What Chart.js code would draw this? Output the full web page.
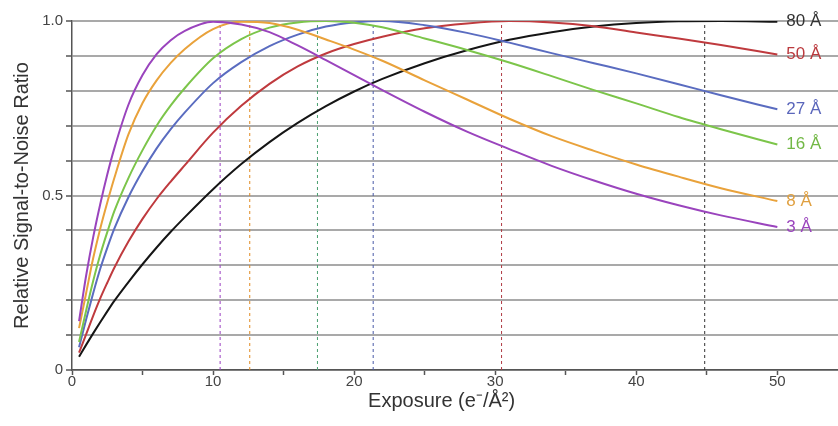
<!DOCTYPE html>
<html>
<head>
<meta charset="utf-8">
<script src="https://cdn.jsdelivr.net/npm/chart.js@4"></script>
<style>
  body { margin: 0; background: #fff; }
  #wrap { width: 838px; height: 426px; position: relative; }
</style>
</head>
<body>
<div id="wrap"><canvas id="myChart"></canvas></div>
<script>
// exposure (e-/A^2) sample points shared by every curve
const exposure = [0.5, 1, 1.5, 2, 2.5, 3, 4, 5, 6, 7, 8, 10, 12, 14, 16, 18, 20, 22, 25, 28, 31, 34, 37, 40, 43, 46, 50];

// relative SNR, one array per resolution
const snr3  = [0.14, 0.27, 0.38, 0.475, 0.56, 0.635, 0.76, 0.845, 0.905, 0.945, 0.972, 0.998, 0.99, 0.968, 0.93, 0.888, 0.845, 0.802, 0.74, 0.683, 0.633, 0.585, 0.543, 0.505, 0.472, 0.443, 0.41];
const snr8  = [0.12, 0.22, 0.32, 0.405, 0.48, 0.55, 0.675, 0.765, 0.83, 0.88, 0.92, 0.977, 0.998, 0.994, 0.975, 0.947, 0.918, 0.886, 0.83, 0.775, 0.72, 0.67, 0.628, 0.589, 0.554, 0.521, 0.484];
const snr16 = [0.08, 0.17, 0.255, 0.33, 0.395, 0.455, 0.55, 0.63, 0.7, 0.758, 0.808, 0.893, 0.948, 0.981, 0.996, 1.0, 0.995, 0.982, 0.95, 0.917, 0.881, 0.842, 0.802, 0.764, 0.725, 0.69, 0.646];
const snr27 = [0.065, 0.145, 0.22, 0.29, 0.35, 0.405, 0.495, 0.57, 0.635, 0.69, 0.738, 0.822, 0.882, 0.928, 0.961, 0.984, 0.996, 1.0, 0.988, 0.966, 0.938, 0.908, 0.879, 0.85, 0.819, 0.787, 0.747];
const snr50 = [0.05, 0.102, 0.155, 0.205, 0.25, 0.293, 0.368, 0.433, 0.49, 0.54, 0.587, 0.68, 0.757, 0.82, 0.87, 0.907, 0.934, 0.955, 0.979, 0.993, 1.0, 0.996, 0.985, 0.967, 0.95, 0.931, 0.904];
const snr80 = [0.038, 0.072, 0.105, 0.137, 0.168, 0.198, 0.252, 0.303, 0.351, 0.396, 0.438, 0.518, 0.59, 0.653, 0.708, 0.756, 0.798, 0.834, 0.879, 0.916, 0.946, 0.968, 0.984, 0.994, 0.999, 1.0, 0.998];

// optimal exposure for each curve (dashed lines)
const peaks = [10.5, 12.6, 17.4, 21.35, 30.45, 44.85];

const labels = ['3 Å', '8 Å', '16 Å', '27 Å', '50 Å', '80 Å'];
const colors = ['#9a44bd', '#e9a23b', '#7cc54a', '#5a6cc0', '#bf3a3e', '#151515'];
const dashColors = ['#9a3fc0', '#e08a20', '#4aa070', '#4a5aa8', '#b03a44', '#333333'];
const labelColors = ['#9a44bd', '#e0a040', '#72b845', '#5a66bb', '#bb3a3e', '#333333'];
const series = [snr3, snr8, snr16, snr27, snr50, snr80];

const curveSets = series.map((vals, i) => ({
  label: labels[i],
  data: exposure.map((x, j) => ({ x: x, y: vals[j] })),
  borderColor: colors[i],
  borderWidth: 2,
  pointRadius: 0,
  cubicInterpolationMode: 'monotone',
  fill: false
}));

const dashSets = peaks.map((p, i) => ({
  label: 'peak ' + labels[i],
  data: [{ x: p, y: 0 }, { x: p, y: 1 }],
  borderColor: dashColors[i],
  borderWidth: 1,
  borderDash: [3, 3],
  pointRadius: 0,
  fill: false
}));

const endLabels = {
  id: 'endLabels',
  afterDatasetsDraw(chart) {
    const { ctx, scales: { x, y } } = chart;
    ctx.save();
    ctx.font = '17px "Liberation Sans", Arial, sans-serif';
    ctx.textBaseline = 'middle';
    ctx.textAlign = 'left';
    series.forEach((vals, i) => {
      const last = vals.length - 1;
      ctx.fillStyle = labelColors[i];
      ctx.fillText(labels[i], x.getPixelForValue(exposure[last]) + 9, y.getPixelForValue(vals[last]));
    });
    // x axis title
    ctx.fillStyle = '#333';
    ctx.textAlign = 'center';
    ctx.textBaseline = 'alphabetic';
    ctx.font = '20px "Liberation Sans", Arial, sans-serif';
    ctx.fillText('Exposure (e⁻/Å²)', x.getPixelForValue(26.2), 407);
    ctx.restore();
  }
};

const tickFont = { family: '"Liberation Sans", Arial, sans-serif', size: 15 };

new Chart(document.getElementById('myChart'), {
  type: 'line',
  data: { datasets: curveSets.concat(dashSets) },
  options: {
    responsive: true,
    maintainAspectRatio: false,
    animation: false,
    layout: { padding: { top: 21, right: 0, left: 0, bottom: 0 } },
    plugins: { legend: { display: false }, tooltip: { enabled: false } },
    scales: {
      x: {
        type: 'linear',
        min: 0,
        max: 54.3,
        afterBuildTicks: (axis) => {
          axis.ticks = [0, 5, 10, 15, 20, 25, 30, 35, 40, 45, 50].map(v => ({ value: v }));
        },
        afterFit: (axis) => { axis.height = 56; },
        ticks: {
          font: tickFont,
          color: '#444',
          padding: -2,
          maxRotation: 0,
          callback: (v) => (v % 10 === 0 ? String(v) : '')
        },
        grid: { drawOnChartArea: false, tickLength: 5, tickColor: '#555', tickWidth: 1.5 },
        border: { color: '#555', width: 1.5 }
      },
      y: {
        min: 0,
        max: 1,
        afterFit: (axis) => { axis.width = 72; },
        ticks: {
          stepSize: 0.1,
          font: tickFont,
          color: '#444',
          padding: 3,
          callback: (v) => {
            if (Math.abs(v - 1) < 1e-6) return '1.0';
            if (Math.abs(v - 0.5) < 1e-6) return '0.5';
            if (Math.abs(v) < 1e-6) return '0';
            return '';
          }
        },
        grid: { color: '#a9a9a9', lineWidth: 2, tickColor: '#555', tickLength: 6, tickWidth: 1.5 },
        border: { color: '#555', width: 1.5 },
        title: {
          display: true,
          text: 'Relative Signal-to-Noise Ratio',
          color: '#333',
          font: { family: '"Liberation Sans", Arial, sans-serif', size: 20 },
          padding: { top: 10, bottom: 0 }
        }
      }
    }
  },
  plugins: [endLabels]
});
</script>
</body>
</html>
